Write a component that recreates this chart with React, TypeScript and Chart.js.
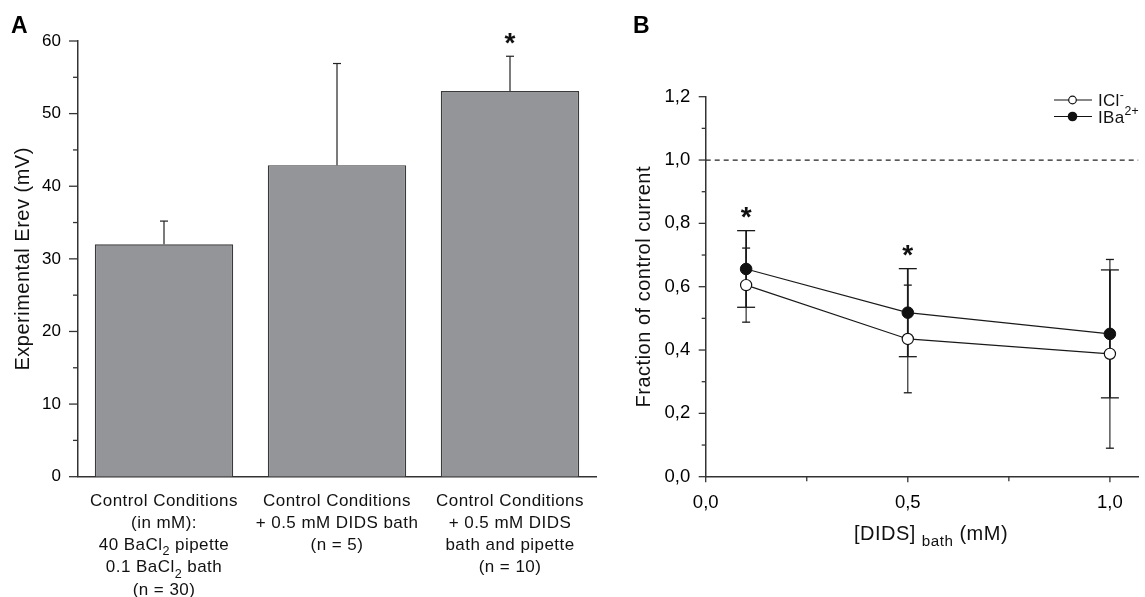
import React, { useEffect, useRef } from "react";
import { Chart, registerables } from "chart.js";

Chart.register(...registerables);

// ---------- Panel A data ----------
const conditionLines: string[][] = [
  ["Control Conditions", "(in mM):", "40 BaCl_{2} pipette", "0.1 BaCl_{2} bath", "(n = 30)"],
  ["Control Conditions", "+ 0.5 mM DIDS bath", "(n = 5)"],
  ["Control Conditions", "+ 0.5 mM DIDS", "bath and pipette", "(n = 10)"],
];
const erevMean = [32.0, 42.9, 53.1];
const erevErr = [3.2, 14.0, 4.8];
const erevSig = ["", "", "*"];
const erevTickValues = [0, 10, 20, 30, 40, 50, 60];

// ---------- Panel B data ----------
const didsDose = [0.1, 0.5, 1.0];
const iclMean = [0.605, 0.435, 0.388];
const iclErr = [0.117, 0.17, 0.298];
const ibaMean = [0.656, 0.518, 0.451];
const ibaErr = [0.121, 0.139, 0.202];
const doseSig = ["*", "*", ""];
const seriesNames = ["ICl^{-}", "IBa^{2+}"];
const fracTickValues = [0, 0.2, 0.4, 0.6, 0.8, 1.0, 1.2];
const fracTickLabels = ["0,0", "0,2", "0,4", "0,6", "0,8", "1,0", "1,2"];
const doseTickValues = [0, 0.5, 1.0];
const doseTickLabels = ["0,0", "0,5", "1,0"];
const controlLevel = 1.0;

const FONT = "'Liberation Sans', Arial, Helvetica, sans-serif";
const INK = "#111";
const AXIS = "#333";

type Seg = { t: string; kind: "n" | "sub" | "sup" };
function parseRich(s: string): Seg[] {
  const out: Seg[] = [];
  const re = /([_^])\{([^}]*)\}/g;
  let last = 0;
  let m: RegExpExecArray | null;
  while ((m = re.exec(s))) {
    if (m.index > last) out.push({ t: s.slice(last, m.index), kind: "n" });
    out.push({ t: m[2], kind: m[1] === "_" ? "sub" : "sup" });
    last = re.lastIndex;
  }
  if (last < s.length) out.push({ t: s.slice(last), kind: "n" });
  return out;
}

function drawRich(
  ctx: CanvasRenderingContext2D,
  s: string,
  x: number,
  y: number,
  size: number,
  align: "left" | "center" | "right",
  spacing = 0,
  weight = "normal",
  smallScale = 0.74
) {
  const segs = parseRich(s);
  const small = size * smallScale;
  const fontFor = (k: string) => `${weight} ${k === "n" ? size : small}px ${FONT}`;
  (ctx as any).letterSpacing = spacing + "px";
  let total = 0;
  const widths = segs.map((sg) => {
    ctx.font = fontFor(sg.kind);
    const w = ctx.measureText(sg.t).width;
    total += w;
    return w;
  });
  let cx = align === "left" ? x : align === "center" ? x - total / 2 : x - total;
  ctx.textAlign = "left";
  ctx.textBaseline = "alphabetic";
  segs.forEach((sg, i) => {
    ctx.font = fontFor(sg.kind);
    const dy = sg.kind === "sub" ? size * 0.3 : sg.kind === "sup" ? -size * 0.42 : 0;
    ctx.fillText(sg.t, cx, y + dy);
    cx += widths[i];
  });
  (ctx as any).letterSpacing = "0px";
}

function line(ctx: CanvasRenderingContext2D, x1: number, y1: number, x2: number, y2: number) {
  ctx.beginPath();
  ctx.moveTo(x1, y1);
  ctx.lineTo(x2, y2);
  ctx.stroke();
}

function drawAsterisk(ctx: CanvasRenderingContext2D, x: number, centerY: number) {
  const size = 28;
  ctx.fillStyle = INK;
  ctx.font = `bold ${size}px ${FONT}`;
  ctx.textAlign = "center";
  ctx.textBaseline = "alphabetic";
  ctx.fillText("*", x, centerY + 0.565 * size);
}

const panelAPlugin = {
  id: "panelA",
  afterDatasetsDraw(chart: any) {
    const { ctx, scales } = chart;
    const xs = scales.x, ys = scales.y;
    ctx.save();
    ctx.strokeStyle = "#222";
    ctx.lineWidth = 1.2;
    erevMean.forEach((m, i) => {
      const px = xs.getPixelForValue(i);
      const y0 = ys.getPixelForValue(m);
      const y1 = ys.getPixelForValue(m + erevErr[i]);
      line(ctx, px, y0, px, y1);
      line(ctx, px - 4, y1, px + 4, y1);
      if (erevSig[i]) drawAsterisk(ctx, px, y1 - 20);
    });
    ctx.restore();
  },
  afterDraw(chart: any) {
    const { ctx, chartArea, scales } = chart;
    const xs = scales.x, ys = scales.y;
    ctx.save();
    // y ticks (major + minor)
    ctx.strokeStyle = AXIS;
    ctx.lineWidth = 1.3;
    for (let v = ys.min; v <= ys.max + 1e-9; v += 5) {
      const major = erevTickValues.includes(v);
      const py = ys.getPixelForValue(v);
      line(ctx, chartArea.left - (major ? 8.5 : 4.5), py, chartArea.left, py);
    }
    // category labels
    ctx.fillStyle = INK;
    conditionLines.forEach((lines, i) => {
      const px = xs.getPixelForValue(i);
      lines.forEach((ln, j) => {
        drawRich(ctx, ln, px, chartArea.bottom + 29.4 + j * 22.1, 17, "center", 0.45);
      });
    });
    // y title
    ctx.save();
    ctx.translate(22, (chartArea.top + chartArea.bottom) / 2);
    ctx.rotate(-Math.PI / 2);
    ctx.fillStyle = INK;
    drawRich(ctx, "Experimental Erev (mV)", 0, 7, 20, "center", 0.5);
    ctx.restore();
    // panel letter
    ctx.fillStyle = "#000";
    ctx.font = `bold 23px ${FONT}`;
    ctx.textAlign = "left";
    ctx.textBaseline = "alphabetic";
    ctx.fillText("A", 11, 33);
    ctx.restore();
  },
};

const panelBPlugin = {
  id: "panelB",
  beforeDatasetsDraw(chart: any) {
    const { ctx, chartArea, scales } = chart;
    const xs = scales.x, ys = scales.y;
    ctx.save();
    // control level dashed line
    ctx.strokeStyle = "#222";
    ctx.lineWidth = 1.2;
    ctx.setLineDash([5, 4]);
    const py = ys.getPixelForValue(controlLevel);
    line(ctx, chartArea.left, py, chartArea.right, py);
    ctx.setLineDash([]);
    // error bars
    const groups = [
      { mean: iclMean, err: iclErr, cap: 4, lw: 1.1 },
      { mean: ibaMean, err: ibaErr, cap: 9, lw: 1.8 },
    ];
    groups.forEach((g) => {
      ctx.lineWidth = g.lw;
      ctx.strokeStyle = "#1a1a1a";
      didsDose.forEach((d, i) => {
        const px = xs.getPixelForValue(d);
        const yt = ys.getPixelForValue(g.mean[i] + g.err[i]);
        const yb = ys.getPixelForValue(g.mean[i] - g.err[i]);
        line(ctx, px, yt, px, yb);
        ctx.lineWidth = 1.3;
        line(ctx, px - g.cap, yt, px + g.cap, yt);
        line(ctx, px - g.cap, yb, px + g.cap, yb);
        ctx.lineWidth = g.lw;
      });
    });
    ctx.restore();
  },
  afterDraw(chart: any) {
    const { ctx, chartArea, scales, width } = chart;
    const xs = scales.x, ys = scales.y;
    ctx.save();
    ctx.strokeStyle = AXIS;
    ctx.lineWidth = 1.3;
    // y ticks
    for (let i = 0; i <= 12; i++) {
      const v = i / 10;
      const major = i % 2 === 0;
      const py = ys.getPixelForValue(v);
      line(ctx, chartArea.left - (major ? 7 : 4), py, chartArea.left, py);
    }
    // x ticks
    for (let i = 0; i * 0.25 <= xs.max + 1e-9; i++) {
      const v = i * 0.25;
      const px = xs.getPixelForValue(v);
      line(ctx, px, chartArea.bottom, px, chartArea.bottom + (i % 2 === 0 ? 5.5 : 4.5));
    }
    // asterisks
    didsDose.forEach((d, i) => {
      if (!doseSig[i]) return;
      const px = xs.getPixelForValue(d);
      const top = Math.max(ibaMean[i] + ibaErr[i], iclMean[i] + iclErr[i]);
      drawAsterisk(ctx, px, ys.getPixelForValue(top) - 20.7);
    });
    // legend
    const rows = [100, 116.5];
    seriesNames.forEach((name, i) => {
      const cy = rows[i];
      ctx.strokeStyle = "#111";
      ctx.lineWidth = 1.2;
      line(ctx, 454, cy, 492, cy);
      ctx.beginPath();
      if (i === 0) {
        ctx.arc(472.5, cy, 3.8, 0, Math.PI * 2);
        ctx.fillStyle = "#fff";
        ctx.fill();
        ctx.stroke();
      } else {
        ctx.arc(472.5, cy, 4.8, 0, Math.PI * 2);
        ctx.fillStyle = "#111";
        ctx.fill();
      }
      ctx.fillStyle = INK;
      drawRich(ctx, name, 498, cy + 6.1, 17, "left", 0.3, "normal", 0.72);
    });
    // axis titles
    ctx.fillStyle = INK;
    drawRich(ctx, "[DIDS] _{bath} (mM)", 331, 540, 20, "center", 0.5, "normal", 0.76);
    ctx.save();
    ctx.translate(43, (chartArea.top + chartArea.bottom) / 2);
    ctx.rotate(-Math.PI / 2);
    drawRich(ctx, "Fraction of control current", 0, 7, 20, "center", 0.5);
    ctx.restore();
    // panel letter
    ctx.fillStyle = "#000";
    ctx.font = `bold 23px ${FONT}`;
    ctx.textAlign = "left";
    ctx.textBaseline = "alphabetic";
    ctx.fillText("B", 33, 33);
    ctx.restore();
  },
};

export default function App() {
  const refA = useRef<HTMLCanvasElement>(null);
  const refB = useRef<HTMLCanvasElement>(null);

  useEffect(() => {
    const chartA = new Chart(refA.current as HTMLCanvasElement, {
      type: "bar",
      data: {
        labels: conditionLines.map((l) => l.join(" ")),
        datasets: [
          {
            data: erevMean,
            backgroundColor: "#939598",
            borderColor: "#3a3a3a",
            borderWidth: 1.3,
            barPercentage: 0.8,
            categoryPercentage: 1,
          },
        ],
      },
      options: {
        responsive: false,
        animation: false,
        devicePixelRatio: 1,
        layout: { padding: { top: 41, right: 3.5, left: 0, bottom: 0 } },
        plugins: { legend: { display: false }, tooltip: { enabled: false } },
        scales: {
          x: {
            type: "category",
            grid: { display: false, drawTicks: false },
            border: { display: true, color: AXIS, width: 1.5 },
            ticks: { display: false },
            afterFit: (s: any) => {
              s.height = 597 - 476.7;
            },
          },
          y: {
            type: "linear",
            min: 0,
            max: 60,
            grid: { display: false, drawTicks: false },
            border: { display: true, color: AXIS, width: 1.5 },
            ticks: {
              stepSize: 5,
              padding: 16.5,
              color: "#000",
              font: { family: FONT, size: 17 },
              callback: (v: any) => (erevTickValues.includes(Number(v)) ? String(v) : ""),
            },
            afterFit: (s: any) => {
              s.width = 77.5;
            },
          },
        },
      },
      plugins: [panelAPlugin],
    } as any);

    const chartB = new Chart(refB.current as HTMLCanvasElement, {
      type: "line",
      data: {
        datasets: [
          {
            label: "ICl-",
            data: didsDose.map((d, i) => ({ x: d, y: iclMean[i] })),
            borderColor: "#1a1a1a",
            borderWidth: 1.2,
            pointRadius: 5.6,
            pointBackgroundColor: "#fff",
            pointBorderColor: "#111",
            pointBorderWidth: 1.2,
            fill: false,
          },
          {
            label: "IBa2+",
            data: didsDose.map((d, i) => ({ x: d, y: ibaMean[i] })),
            borderColor: "#1a1a1a",
            borderWidth: 1.2,
            pointRadius: 5.8,
            pointBackgroundColor: "#111",
            pointBorderColor: "#111",
            pointBorderWidth: 1,
            fill: false,
          },
        ],
      },
      options: {
        responsive: false,
        animation: false,
        devicePixelRatio: 1,
        layout: { padding: { top: 96.7, right: 0, left: 0, bottom: 0 } },
        plugins: { legend: { display: false }, tooltip: { enabled: false } },
        scales: {
          x: {
            type: "linear",
            min: 0,
            max: 1.07,
            grid: { display: false, drawTicks: false },
            border: { display: true, color: AXIS, width: 1.5 },
            ticks: {
              stepSize: 0.25,
              includeBounds: false,
              padding: 15,
              color: "#000",
              maxRotation: 0,
              autoSkip: false,
              font: { family: FONT, size: 18.5 },
              callback: (v: any) => {
                const i = doseTickValues.findIndex((t) => Math.abs(t - Number(v)) < 1e-6);
                return i >= 0 ? doseTickLabels[i] : "";
              },
            },
            afterFit: (s: any) => {
              s.height = 597 - 476.7;
            },
          },
          y: {
            type: "linear",
            min: 0,
            max: 1.2,
            grid: { display: false, drawTicks: false },
            border: { display: true, color: AXIS, width: 1.5 },
            ticks: {
              stepSize: 0.1,
              padding: 15.5,
              color: "#000",
              autoSkip: false,
              font: { family: FONT, size: 18.5 },
              callback: (v: any) => {
                const i = fracTickValues.findIndex((t) => Math.abs(t - Number(v)) < 1e-6);
                return i >= 0 ? fracTickLabels[i] : "";
              },
            },
            afterFit: (s: any) => {
              s.width = 105.7;
            },
          },
        },
      },
      plugins: [panelBPlugin],
    } as any);

    return () => {
      chartA.destroy();
      chartB.destroy();
    };
  }, []);

  return (
    <div style={{ position: "fixed", left: 0, top: 0, width: 1145, height: 597, background: "#fff" }}>
      <canvas
        ref={refA}
        width={600}
        height={597}
        style={{ position: "absolute", left: 0, top: 0, width: 600, height: 597 }}
      />
      <canvas
        ref={refB}
        width={545}
        height={597}
        style={{ position: "absolute", left: 600, top: 0, width: 545, height: 597 }}
      />
    </div>
  );
}
